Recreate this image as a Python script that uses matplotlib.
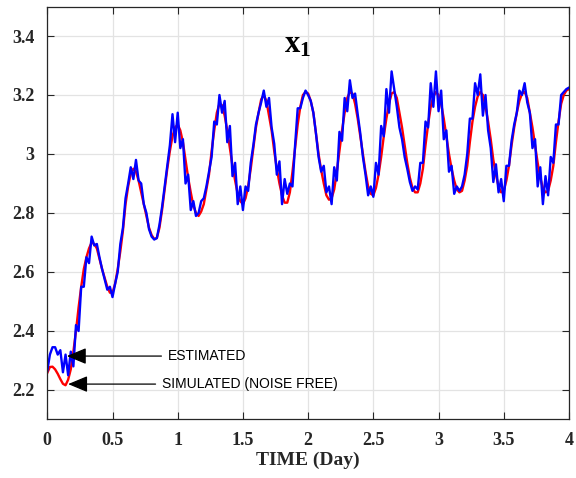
import numpy as np
import matplotlib
matplotlib.use("Agg")
import matplotlib.pyplot as plt


# Time axis (days) and the two state trajectories.
time_days = np.linspace(0, 4, 201)

x1_simulated = [
    2.258, 2.278, 2.279, 2.270, 2.255, 2.237, 2.221, 2.216, 2.235,
    2.27, 2.33, 2.40, 2.48, 2.55, 2.61, 2.65, 2.68, 2.70, 2.695,
    2.68, 2.645, 2.61, 2.58, 2.55, 2.53, 2.53, 2.56, 2.61, 2.67,
    2.74, 2.83, 2.89, 2.935, 2.95, 2.94, 2.91, 2.87, 2.83, 2.79,
    2.75, 2.725, 2.712, 2.715, 2.75, 2.81, 2.88, 2.95, 3.01, 3.06,
    3.09, 3.10, 3.08, 3.04, 2.98, 2.92, 2.87, 2.825, 2.80, 2.79,
    2.805, 2.83, 2.88, 2.93, 3.01, 3.08, 3.14, 3.17, 3.165, 3.13,
    3.08, 3.02, 2.96, 2.91, 2.865, 2.84, 2.83, 2.85, 2.89, 2.95,
    3.02, 3.09, 3.14, 3.185, 3.20, 3.18, 3.13, 3.08, 3.01, 2.95,
    2.90, 2.86, 2.835, 2.835, 2.87, 2.94, 3.02, 3.10, 3.16, 3.20,
    3.21, 3.205, 3.18, 3.14, 3.07, 3.00, 2.945, 2.90, 2.86, 2.845,
    2.85, 2.88, 2.94, 3.01, 3.08, 3.14, 3.19, 3.21, 3.205, 3.17,
    3.12, 3.06, 3.00, 2.94, 2.89, 2.865, 2.86, 2.885, 2.93, 2.99,
    3.06, 3.12, 3.17, 3.205, 3.21, 3.19, 3.14, 3.09, 3.03, 2.97,
    2.92, 2.885, 2.87, 2.87, 2.90, 2.95, 3.03, 3.10, 3.16, 3.195,
    3.21, 3.20, 3.17, 3.12, 3.06, 3.00, 2.95, 2.91, 2.88, 2.87,
    2.875, 2.91, 2.96, 3.04, 3.11, 3.16, 3.195, 3.21, 3.20, 3.16,
    3.11, 3.05, 2.98, 2.93, 2.89, 2.87, 2.875, 2.91, 2.96, 3.03,
    3.09, 3.14, 3.18, 3.205, 3.21, 3.19, 3.14, 3.09, 3.03, 2.97,
    2.92, 2.885, 2.87, 2.875, 2.91, 2.96, 3.04, 3.11, 3.17, 3.20,
    3.215, 3.22,
]

x1_estimated = [
    2.265, 2.32, 2.345, 2.345, 2.32, 2.335, 2.26, 2.32, 2.25,
    2.33, 2.28, 2.42, 2.40, 2.55, 2.55, 2.65, 2.63, 2.72, 2.69,
    2.695, 2.65, 2.61, 2.575, 2.54, 2.55, 2.515, 2.56, 2.60, 2.695,
    2.75, 2.85, 2.90, 2.955, 2.915, 2.98, 2.91, 2.90, 2.83, 2.80,
    2.745, 2.72, 2.71, 2.715, 2.76, 2.82, 2.89, 2.96, 3.03, 3.135,
    3.04, 3.14, 3.02, 3.05, 2.90, 2.93, 2.81, 2.84, 2.79, 2.80,
    2.84, 2.85, 2.89, 2.94, 2.99, 3.11, 3.10, 3.20, 3.14, 3.18,
    3.04, 3.095, 2.925, 2.97, 2.83, 2.89, 2.81, 2.89, 2.875, 2.97,
    3.03, 3.10, 3.14, 3.175, 3.215, 3.16, 3.19, 3.09, 3.035, 2.93,
    2.975, 2.83, 2.915, 2.865, 2.90, 2.89, 3.03, 3.155, 3.155, 3.19,
    3.215, 3.20, 3.18, 3.14, 3.07, 2.99, 2.94, 2.96, 2.87, 2.89,
    2.83, 2.955, 2.91, 3.075, 3.045, 3.19, 3.145, 3.25, 3.19, 3.205,
    3.135, 3.07, 2.99, 2.93, 2.86, 2.89, 2.855, 2.97, 2.93, 3.095,
    3.06, 3.22, 3.14, 3.28, 3.22, 3.16, 3.09, 3.05, 2.99, 2.95,
    2.905, 2.875, 2.89, 2.88, 2.97, 2.97, 3.11, 3.09, 3.24, 3.16,
    3.28, 3.145, 3.215, 3.05, 3.08, 2.94, 2.96, 2.865, 2.89, 2.875,
    2.89, 2.93, 3.00, 3.12, 3.12, 3.24, 3.20, 3.27, 3.13, 3.20,
    3.08, 3.02, 2.905, 2.965, 2.87, 2.915, 2.84, 2.96, 2.96, 3.045,
    3.10, 3.14, 3.215, 3.20, 3.24, 3.175, 3.14, 3.02, 3.05, 2.89,
    2.955, 2.83, 2.925, 2.86, 2.99, 2.97, 3.10, 3.10, 3.20, 3.21,
    3.22, 3.225,
]

x_ticks = [0, 0.5, 1, 1.5, 2, 2.5, 3, 3.5, 4]
x_tick_labels = ["0", "0.5", "1", "1.5", "2", "2.5", "3", "3.5", "4"]
y_ticks = [2.2, 2.4, 2.6, 2.8, 3.0, 3.2, 3.4]
y_tick_labels = ["2.2", "2.4", "2.6", "2.8", "3", "3.2", "3.4"]

# Arrow annotations: (label, arrow tip (t, x1), text start (t, x1)).
annotations = [
    ("ESTIMATED", (0.15, 2.315), (0.925, 2.315)),
    ("SIMULATED (NOISE FREE)", (0.16, 2.22), (0.88, 2.22)),
]


def style_axes(ax):
    axis_color = "#262626"
    ax.set_xlim(0, 4)
    ax.set_ylim(2.1, 3.5)
    ax.set_xticks(x_ticks)
    ax.set_xticklabels(x_tick_labels)
    ax.set_yticks(y_ticks)
    ax.set_yticklabels(y_tick_labels)
    ax.tick_params(direction="in", top=True, right=True, length=5,
                   width=0.8, colors=axis_color, pad=9)
    for label in ax.get_xticklabels() + ax.get_yticklabels():
        label.set_fontfamily("Liberation Serif")
        label.set_fontweight("bold")
        label.set_fontsize(13)
    for spine in ax.spines.values():
        spine.set_color(axis_color)
        spine.set_linewidth(0.9)
    ax.grid(True, color="#e3e3e3", linewidth=0.9)
    ax.set_axisbelow(True)
    ax.set_xlabel("TIME (Day)", fontfamily="Liberation Serif",
                  fontweight="bold", fontsize=14, color=axis_color,
                  labelpad=2)


def main():
    plt.rcParams["mathtext.fontset"] = "custom"
    plt.rcParams["mathtext.bf"] = "Liberation Serif:bold"
    plt.rcParams["mathtext.rm"] = "Liberation Serif"

    fig = plt.figure(figsize=(5.76, 4.78), dpi=100)
    ax = fig.add_axes([0.0821, 0.1224, 0.9057, 0.864])

    # Red: noise free simulation, blue: estimate drawn on top.
    ax.plot(time_days, x1_simulated, color=(1, 0, 0), linewidth=1.7)
    ax.plot(time_days, x1_estimated, color=(0, 0, 1), linewidth=1.7)

    style_axes(ax)

    # State name inside the plot.
    ax.text(1.92, 3.37, r"$\mathbf{x_1}$", fontsize=22, ha="center",
            va="center", color="black")

    for label, tip, start in annotations:
        ax.annotate("", xy=tip, xytext=(start[0] - 0.05, start[1]),
                    arrowprops=dict(arrowstyle="-|>,head_length=1.2,"
                                    "head_width=0.5",
                                    color="black", lw=0.9,
                                    shrinkA=0, shrinkB=0))
        ax.text(start[0], start[1], label, fontfamily="Liberation Sans",
                fontsize=10, ha="left", va="center", color="black")

    plt.savefig("out.png", dpi=100)
    plt.close()


if __name__ == "__main__":
    main()
